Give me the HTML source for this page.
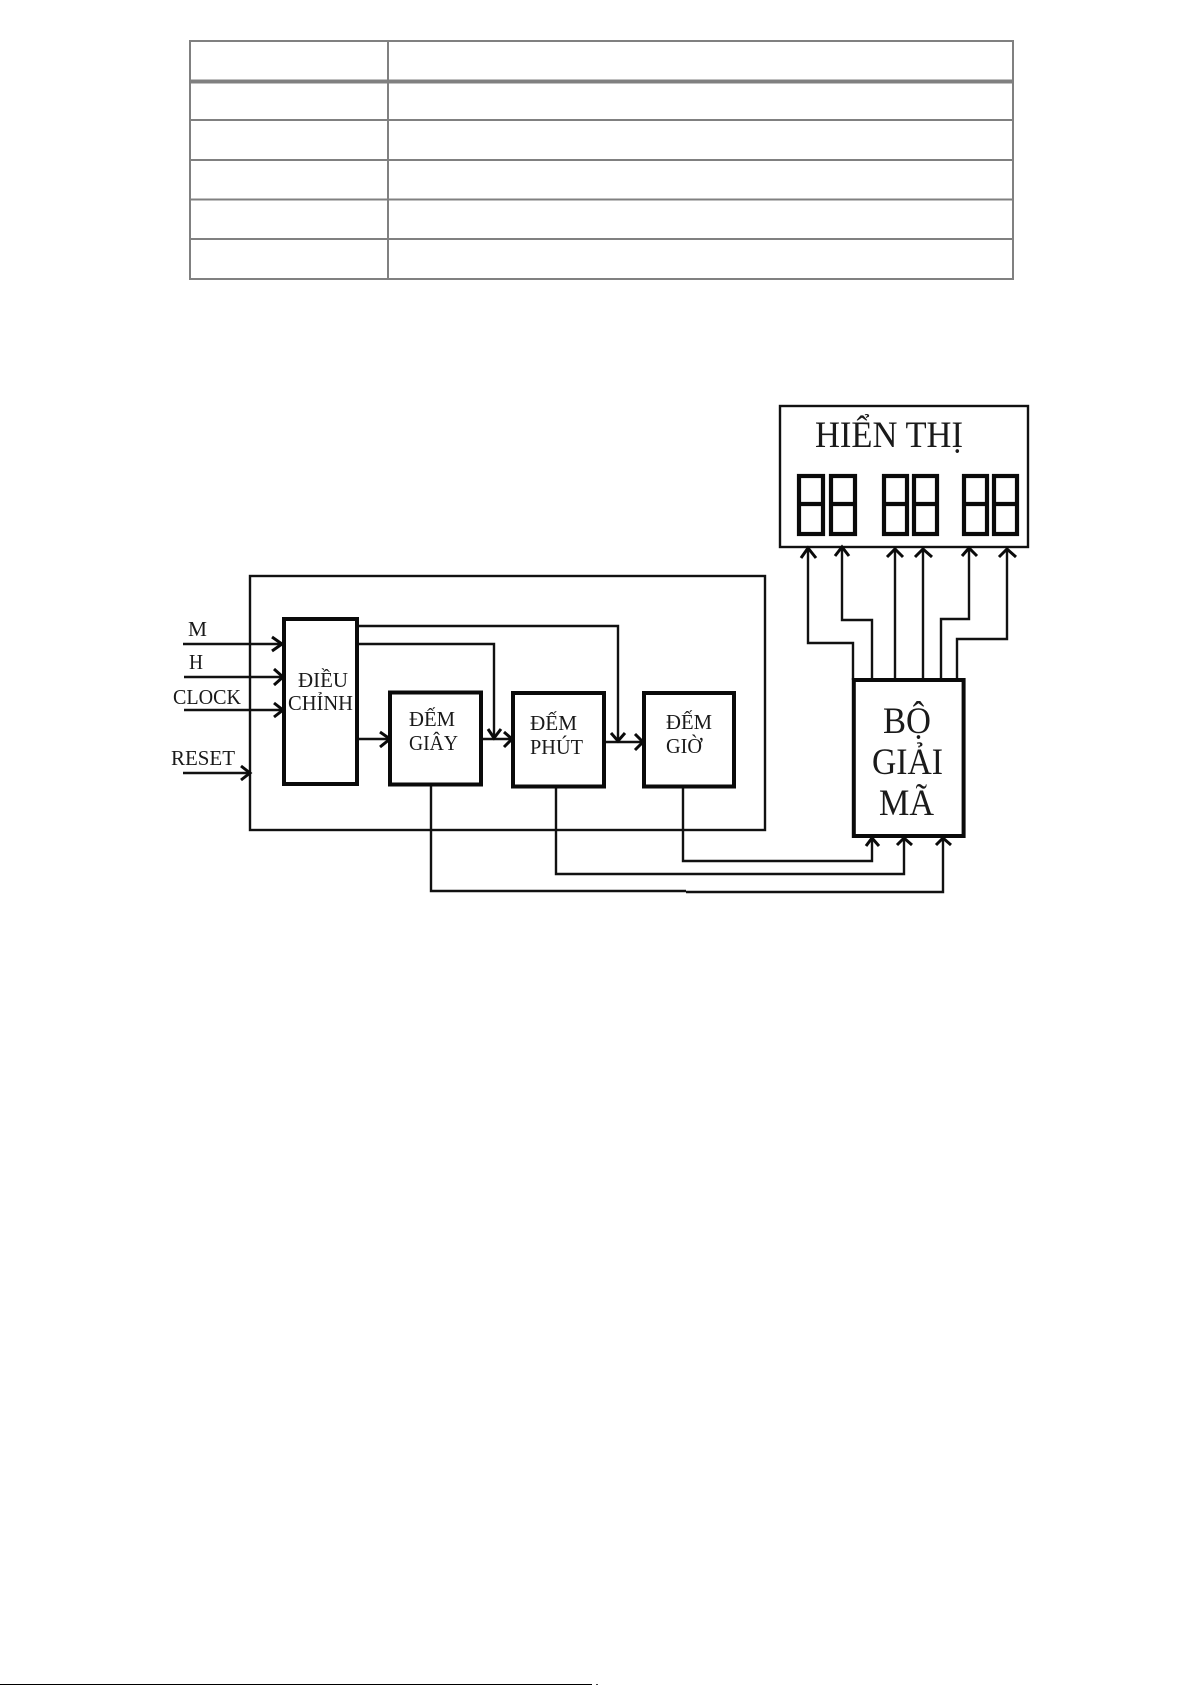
<!DOCTYPE html>
<html lang="vi">
<head>
<meta charset="utf-8">
<title>Sơ đồ khối đồng hồ số</title>
<style>
html,body{margin:0;padding:0;background:#fff;width:1191px;height:1685px;overflow:hidden}
svg{display:block}
text{font-family:"Liberation Serif","DejaVu Serif",serif;fill:#1a1a1a}
</style>
</head>
<body>
<svg width="1191" height="1685" viewBox="0 0 1191 1685" xmlns="http://www.w3.org/2000/svg">
<rect width="1191" height="1685" fill="#fff"/>

<!-- table -->
<g stroke="#808080" fill="none">
  <rect x="190" y="41" width="823" height="238" stroke-width="2"/>
  <line x1="388" y1="41" x2="388" y2="279" stroke-width="2"/>
  <line x1="189" y1="81.500" x2="1014" y2="81.500" stroke-width="4"/>
  <line x1="189" y1="120" x2="1014" y2="120" stroke-width="2"/>
  <line x1="189" y1="160" x2="1014" y2="160" stroke-width="2"/>
  <line x1="189" y1="199.500" x2="1014" y2="199.500" stroke-width="2"/>
  <line x1="189" y1="239" x2="1014" y2="239" stroke-width="2"/>
</g>

<!-- display -->
<rect x="780" y="406" width="248" height="141" fill="#fff" stroke="#111" stroke-width="2.400"/>
<text x="815" y="447" font-size="37" textLength="148" lengthAdjust="spacingAndGlyphs">HIỂN THỊ</text>
<g fill="none" stroke="#0a0a0a" stroke-width="4.200">
  <rect x="799" y="476" width="24" height="58"/><line x1="798" y1="504" x2="824" y2="504"/>
  <rect x="831" y="476" width="24" height="58"/><line x1="830" y1="504" x2="856" y2="504"/>
  <rect x="884" y="476" width="23" height="58"/><line x1="883" y1="504" x2="908" y2="504"/>
  <rect x="914" y="476" width="23" height="58"/><line x1="913" y1="504" x2="938" y2="504"/>
  <rect x="964" y="476" width="23" height="58"/><line x1="963" y1="504" x2="988" y2="504"/>
  <rect x="994" y="476" width="23" height="58"/><line x1="993" y1="504" x2="1018" y2="504"/>
</g>

<!-- decoder to display connectors -->
<g fill="none" stroke="#111" stroke-width="2.400">
  <polyline points="808,548 808,643 853,643 853,680"/>
  <polyline points="842,548 842,620 872,620 872,680"/>
  <polyline points="895,548 895,680"/>
  <polyline points="923,548 923,680"/>
  <polyline points="969,548 969,619 941,619 941,680"/>
  <polyline points="1007,548 1007,639 957,639 957,680"/>
</g>
<g fill="none" stroke="#0a0a0a" stroke-width="3">
  <polyline points="801,558 808,548 816,558"/>
  <polyline points="835,556 842,547 849,556"/>
  <polyline points="887,557 895,549 903,557"/>
  <polyline points="915,557 923,549 932,557"/>
  <polyline points="962,556 969,548 977,556"/>
  <polyline points="999,557 1007,549 1016,557"/>
</g>

<!-- decoder -->
<rect x="853.800" y="680" width="109.800" height="156" fill="#fff" stroke="#0a0a0a" stroke-width="4"/>
<text x="883" y="733" font-size="37" textLength="48" lengthAdjust="spacingAndGlyphs">BỘ</text>
<text x="872" y="774" font-size="37" textLength="71" lengthAdjust="spacingAndGlyphs">GIẢI</text>
<text x="879" y="815" font-size="37" textLength="55" lengthAdjust="spacingAndGlyphs">MÃ</text>

<!-- big box -->
<rect x="250" y="576" width="515" height="254" fill="none" stroke="#111" stroke-width="2.400"/>

<!-- internal connectors -->
<g fill="none" stroke="#111" stroke-width="2.400">
  <polyline points="358,626 618,626 618,741"/>
  <polyline points="358,644 494,644 494,738"/>
  <line x1="183" y1="644" x2="283" y2="644"/>
  <line x1="184" y1="677" x2="283" y2="677"/>
  <line x1="184" y1="710" x2="283" y2="710"/>
  <line x1="183" y1="773" x2="250" y2="773"/>
  <line x1="358" y1="739" x2="389" y2="739"/>
  <line x1="482" y1="739" x2="512" y2="739"/>
  <line x1="604" y1="742" x2="643" y2="742"/>
  <polyline points="431,785 431,891 686,891"/>
  <polyline points="686,892 943,892 943,838"/>
  <polyline points="556,787 556,874 904,874 904,838"/>
  <polyline points="683,787 683,861 872,861 872,838"/>
</g>
<g fill="none" stroke="#0a0a0a" stroke-width="3">
  <polyline points="272,637 282,644 272,651"/>
  <polyline points="274,669 283,677 274,685"/>
  <polyline points="274,703 283,710 274,717"/>
  <polyline points="241,766 250,773 241,780"/>
  <polyline points="380,732 390,739 380,747"/>
  <polyline points="504,732 512,739 504,747"/>
  <polyline points="635,734 643,742 635,750"/>
  <polyline points="488,729 494,738 501,729"/>
  <polyline points="611,733 618,741 625,733"/>
  <polyline points="866,846 872,838 879,846"/>
  <polyline points="897,845 904,838 912,845"/>
  <polyline points="936,845 943,838 951,845"/>
</g>

<!-- blocks -->
<rect x="284" y="619" width="73" height="165" fill="#fff" stroke="#0a0a0a" stroke-width="4"/>
<rect x="390" y="692.500" width="91" height="92" fill="#fff" stroke="#0a0a0a" stroke-width="4"/>
<rect x="513" y="693" width="91" height="93.500" fill="#fff" stroke="#0a0a0a" stroke-width="4"/>
<rect x="644" y="693" width="90" height="93.500" fill="#fff" stroke="#0a0a0a" stroke-width="4"/>

<!-- labels -->
<text x="188" y="636" font-size="21" textLength="19" lengthAdjust="spacingAndGlyphs">M</text>
<text x="189" y="669" font-size="21" textLength="14" lengthAdjust="spacingAndGlyphs">H</text>
<text x="173" y="704" font-size="21" textLength="68" lengthAdjust="spacingAndGlyphs">CLOCK</text>
<text x="171" y="765" font-size="21" textLength="64" lengthAdjust="spacingAndGlyphs">RESET</text>
<text x="298" y="687" font-size="21" textLength="50" lengthAdjust="spacingAndGlyphs">ĐIỀU</text>
<text x="288" y="710" font-size="21" textLength="65" lengthAdjust="spacingAndGlyphs">CHỈNH</text>
<text x="409" y="726" font-size="21" textLength="46" lengthAdjust="spacingAndGlyphs">ĐẾM</text>
<text x="409" y="750" font-size="21" textLength="49" lengthAdjust="spacingAndGlyphs">GIÂY</text>
<text x="530" y="730" font-size="21" textLength="47" lengthAdjust="spacingAndGlyphs">ĐẾM</text>
<text x="530" y="754" font-size="21" textLength="53" lengthAdjust="spacingAndGlyphs">PHÚT</text>
<text x="666" y="729" font-size="21" textLength="46" lengthAdjust="spacingAndGlyphs">ĐẾM</text>
<text x="666" y="753" font-size="21" textLength="36" lengthAdjust="spacingAndGlyphs">GIỜ</text>

<!-- footer rule -->
<rect x="0" y="1684" width="592" height="1" fill="#000"/>
<rect x="596" y="1684" width="2" height="1" fill="#444"/>
</svg>
</body>
</html>
